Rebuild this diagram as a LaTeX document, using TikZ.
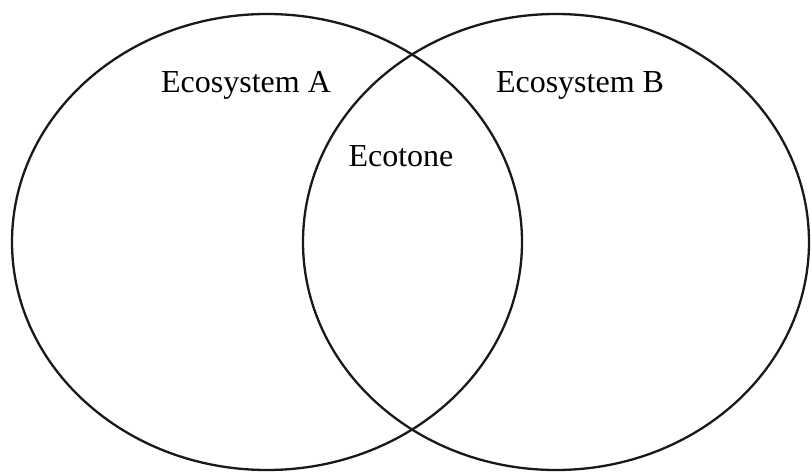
\documentclass[tikz,border=0pt]{standalone}
\usepackage{fontspec}
\setmainfont{Liberation Serif}
\usetikzlibrary{shapes.geometric}
\begin{document}
\begin{tikzpicture}[x=1pt,y=-1pt,
  eco/.style={ellipse,draw=black!90,line width=2.3pt,inner sep=0pt},
  lbl/.style={anchor=base,inner sep=0pt,font=\fontsize{32}{36}\selectfont}]
\useasboundingbox[fill=white] (0,0) rectangle (811,476);
\node[eco,minimum width=510pt,minimum height=456pt] (A) at (267,242) {};
\node[eco,minimum width=506pt,minimum height=456pt] (B) at (556,242) {};
\node[lbl] (la) at (246,93) {Ecosystem A};
\node[lbl] (lb) at (580,93) {Ecosystem B};
\node[lbl] (lt) at (401,167) {Ecotone};
\end{tikzpicture}
\end{document}
